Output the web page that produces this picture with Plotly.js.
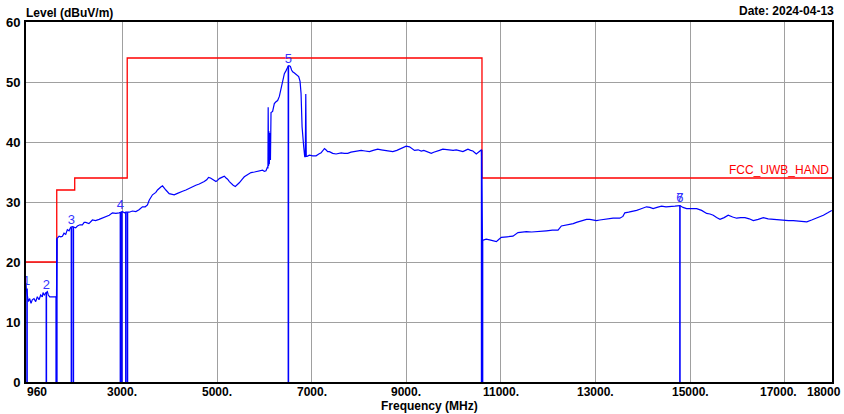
<!DOCTYPE html>
<html><head><meta charset="utf-8">
<script src="https://cdn.plot.ly/plotly-3.0.1.min.js"></script>
<style>html,body{margin:0;padding:0;background:#fff}#chart{width:844px;height:414px}</style>
</head><body><div id="chart"></div>
<script>
// Measured level trace (MHz, dBuV/m)
const freqMHz = [960,966,1009,1038,1066,1093,1129,1165,1199,1235,1271,1305,1320,1347,1377,1390,1411,1432,1462,1517,1574,1605,
1615,1660,1695,1730,1764,1800,1834,1870,1906,1940,1976,2010,2046,2100,2152,2190,2224,2290,2364,2430,2505,2580,2647,2720,2787,2860,2929,2965,2999,3040,3070,3141,3210,3283,3350,3422,3480,3528,3564,3634,3705,3740,3776,3810,3846,3880,3917,3987,4040,4093,4150,4199,4270,4341,4410,4481,4550,4623,4680,4728,4780,4819,4860,4904,4940,4976,5010,5046,5100,5152,5190,5222,5260,5293,5340,5385,5430,5469,5520,5575,5650,5717,5790,5857,5910,5962,6000,6034,6068,
6075,6080,6088,6096,6104,6118,6128,6140,6174,6210,6245,6280,6316,6352,6386,6422,6458,6490,6507,6530,6549,6575,6598,6635,6670,6700,6725,6754,6775,6797,6815,6831,6852,6865,6875,6885,6903,6951,7021,7093,
7150,7199,7230,7269,7300,7339,7375,7444,7516,7550,7622,7690,7762,7830,7904,7980,8046,8130,8221,8300,8397,8470,8539,8630,8715,8800,8892,8950,8998,9068,9120,9174,9250,9316,9370,9422,9480,9528,9580,9633,9700,9773,9850,9915,9990,10057,10130,10197,10250,10303,10360,10408,10480,10550,10590,
10610,10690,10762,10830,10904,10960,11009,11130,11255,11361,11450,11539,11650,11750,11860,11962,12090,12208,12279,12370,12455,12530,12597,12670,12737,12810,12879,12950,13020,13090,13160,13270,13372,13440,13514,13580,13620,13700,13795,13870,13937,14010,14079,14150,14219,14300,14397,14490,14573,14680,14785,14850,14926,15030,15138,15244,15350,15420,15490,15560,15632,15720,15806,15900,15984,16070,16160,16250,16336,16440,16548,16650,16760,16870,16971,17080,17183,17320,17467,17570,17678,17750,17818,17910,17996];
const levelDb = [16.5,15.6,13.4,13.9,13.1,13.7,13.9,13.4,14.2,13.7,14.5,14.2,14.9,14.5,14.8,15.0,15.05,14.5,14.2,14.2,14.2,14.2,
23.9,24.3,24.2,24.3,24.8,24.6,25.4,25.2,25.8,25.9,25.8,25.7,26.0,26.2,26.2,26.6,26.6,26.4,27.0,26.9,27.1,27.3,27.6,27.8,28.2,28.1,28.2,28.3,28.4,28.2,28.3,28.3,28.5,28.4,28.7,29.2,29.2,29.5,30.3,31.2,31.6,32.0,32.3,32.5,32.7,32.3,32.0,31.4,31.3,31.2,31.4,31.6,31.8,32.0,32.3,32.6,32.8,33.0,33.2,33.4,33.7,34.1,34.0,33.8,33.6,33.4,33.6,33.9,34.1,34.3,34.0,33.8,33.4,33.1,32.8,32.6,32.9,33.2,33.7,34.2,34.6,34.9,35.0,35.1,35.2,35.3,35.1,35.2,35.9,
35.6,45.8,36.0,41.8,36.3,41.5,37.0,44.9,45.1,46.4,46.7,46.9,47.6,48.9,50.3,51.4,51.9,52.5,52.7,52.7,52.6,52.0,51.7,51.5,51.3,51.1,50.9,50.1,48.1,42.5,40.0,39.2,37.6,37.5,48.0,37.6,37.6,37.8,37.7,37.7,
38.0,38.2,38.5,38.9,38.7,38.4,38.4,38.1,38.0,38.1,38.2,38.1,38.1,38.3,38.4,38.5,38.6,38.5,38.4,38.6,38.8,38.7,38.6,38.5,38.4,38.6,38.9,39.1,39.3,39.2,38.9,38.6,38.7,38.5,38.6,38.4,38.3,38.1,38.3,38.4,38.6,38.8,38.7,38.6,38.6,38.7,38.6,38.4,38.6,38.8,38.6,38.5,38.0,38.4,38.7,
23.6,23.8,23.7,23.5,23.4,23.8,24.1,24.2,24.3,24.9,25.0,25.05,25.0,25.1,25.2,25.2,25.3,25.3,26.0,26.1,26.3,26.4,26.6,26.8,27.0,27.1,27.1,27.0,26.9,27.0,27.1,27.2,27.3,27.3,27.3,27.6,28.2,28.3,28.4,28.6,28.8,29.0,29.2,29.1,28.9,29.1,29.3,29.2,29.2,29.3,29.4,29.1,28.9,28.9,28.9,28.6,28.1,28.0,27.8,27.4,27.1,27.4,27.8,27.5,27.3,27.4,27.4,27.2,26.9,27.1,27.4,27.2,27.1,27.1,27.0,26.9,26.9,26.8,26.7,27.0,27.3,27.5,27.8,28.2,28.6];

// Limit line FCC_UWB_HAND (step)
const limitFreq = [960,1610,1990,3100,10600,18000];
const limitLevel = [20,32,34,54,34,34];
const limitName = 'FCC_UWB_HAND';

// Vertical drop lines (frequency, top level)
const dropFreq = [982,1390,1598,1612,1920,1961,2956,2986,3071,3105,6507,10592,10612,14785];
const dropTop  = [15.6,15.0,14.2,23.9,25.8,25.9,28.3,28.4,28.3,28.3,52.7,38.7,23.6,29.4];

// Markers
const markerLabels = ['1','2','3','4','5','6','7'];
const markerFreq = [975,1390,1920,2956,6507,14785,14785];
const markerLevel = [15.7,15.0,25.8,28.3,52.7,29.4,29.4];

// Axis ticks
const xGridVals = [3000,5000,7000,9000,11000,13000,15000,17000];
const xTickVals = [960,3000,5000,7000,9000,11000,13000,15000,17000,18000];
const xTickText = ['960','3000.','5000.','7000.','9000.','11000.','13000.','15000.','17000.','18000'];
const yTickVals = [0,10,20,30,40,50,60];

const FONT = 'Arial, "Liberation Sans", sans-serif';

const dx = [], dy = [];
dropFreq.forEach((f, i) => { dx.push(f, f, null); dy.push(0, dropTop[i], null); });

const traces = [
  {x: limitFreq, y: limitLevel, mode: 'lines', line: {color: '#ff0000', width: 1.3, shape: 'hv'}, hoverinfo: 'skip'},
  {x: freqMHz, y: levelDb, mode: 'lines', line: {color: '#0000ff', width: 1.2}, hoverinfo: 'skip'},
  {x: dx, y: dy, mode: 'lines', line: {color: '#0000ff', width: 1.6}, hoverinfo: 'skip'},
  {x: markerFreq, y: markerLevel, mode: 'text', text: markerLabels, textposition: 'top center',
   textfont: {family: FONT, size: 13, color: '#3535ff'}, cliponaxis: true, hoverinfo: 'skip'}
];

const annotations = [];
xTickVals.forEach((v, i) => {
  let anchor = 'center', shift = 0;
  if (i === 0) { anchor = 'left'; shift = -1; }
  else if (i === xTickVals.length - 1) { anchor = 'right'; shift = 11; }
  else if (i === xTickVals.length - 2) { shift = -6; }
  annotations.push({x: v, xref: 'x', y: 0, yref: 'paper', yanchor: 'top', yshift: -1,
    xanchor: anchor, xshift: shift, text: xTickText[i], showarrow: false,
    font: {family: FONT, size: 12, color: '#000', weight: 'bold'}});
});
annotations.push(
  {x: 0.5, xref: 'paper', y: 0, yref: 'paper', yanchor: 'top', yshift: -15, text: 'Frequency (MHz)',
   showarrow: false, font: {family: FONT, size: 12, color: '#000', weight: 'bold'}},
  {x: 0, xref: 'paper', y: 1, yref: 'paper', xanchor: 'left', yanchor: 'bottom', xshift: -2, yshift: 0,
   text: 'Level (dBuV/m)', showarrow: false, font: {family: FONT, size: 12, color: '#000', weight: 'bold'}},
  {x: 1, xref: 'paper', y: 1, yref: 'paper', xanchor: 'right', yanchor: 'bottom', xshift: 4, yshift: 2,
   text: 'Date: 2024-04-13', showarrow: false, font: {family: FONT, size: 12, color: '#000', weight: 'bold'}},
  {x: limitFreq[limitFreq.length - 1], xref: 'x', y: limitLevel[limitLevel.length - 1], yref: 'y',
   xanchor: 'right', yanchor: 'bottom', xshift: -1, yshift: -1, text: limitName, showarrow: false,
   font: {family: FONT, size: 12, color: '#ff0000'}}
);

const layout = {
  width: 844, height: 414,
  margin: {l: 26, r: 12, t: 22, b: 32, pad: 0},
  paper_bgcolor: '#fff', plot_bgcolor: '#fff',
  showlegend: false,
  xaxis: {range: [960, 18000], tickmode: 'array', tickvals: xGridVals, showticklabels: false,
    showgrid: true, gridcolor: '#a0a0a0', gridwidth: 1, zeroline: false,
    showline: true, linecolor: '#000', linewidth: 2, mirror: true, ticks: ''},
  yaxis: {range: [0, 60], tickmode: 'array', tickvals: yTickVals, showgrid: true, gridcolor: '#a0a0a0',
    gridwidth: 1, zeroline: false, showline: true, linecolor: '#000', linewidth: 2, mirror: true,
    ticks: '', ticklabelstandoff: 1,
    tickfont: {family: FONT, size: 13, color: '#000', weight: 'bold'}},
  annotations: annotations
};

Plotly.newPlot('chart', traces, layout, {staticPlot: true, displayModeBar: false});
</script>
</body></html>
